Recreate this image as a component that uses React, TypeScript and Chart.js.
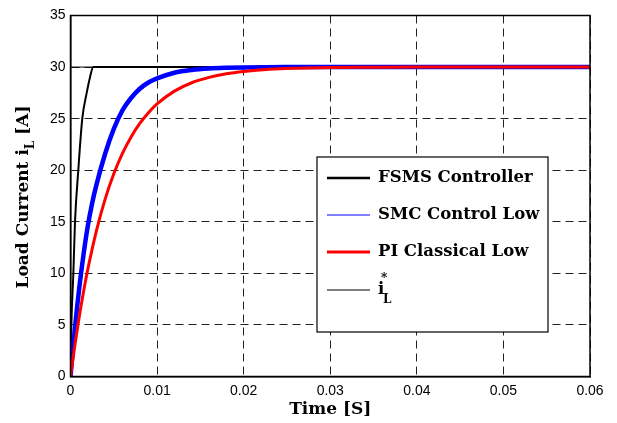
import React, { useEffect, useRef } from "react";
import { Chart, registerables } from "chart.js";

Chart.register(...registerables);

// ---- data ----
const xTickValues = [0, 0.01, 0.02, 0.03, 0.04, 0.05, 0.06];
const xTickLabels = ["0", "0.01", "0.02", "0.03", "0.04", "0.05", "0.06"];
const yTickValues = [0, 5, 10, 15, 20, 25, 30, 35];
const yTickLabels = ["0", "5", "10", "15", "20", "25", "30", "35"];

const timeFsms = [0, 0.0001, 0.00033, 0.00052, 0.0009, 0.00136, 0.00187, 0.00225, 0.00263, 0.06];
const fsms = [0, 5, 10, 15, 20, 25, 27.5, 29, 30, 30];

const timeSmc = [0, 0.0005, 0.001, 0.0015, 0.002, 0.0025, 0.003, 0.004, 0.005, 0.006, 0.007, 0.008, 0.009, 0.01, 0.012, 0.014, 0.016, 0.018, 0.02, 0.025, 0.03, 0.04, 0.05, 0.06];
const smc = [0, 4.6, 8.5, 11.8, 14.6, 16.8, 18.6, 21.6, 24.0, 25.8, 27.0, 27.9, 28.5, 28.9, 29.45, 29.72, 29.86, 29.93, 29.97, 30, 30, 30, 30, 30];

const timePi = [0, 0.0005, 0.001, 0.0015, 0.002, 0.003, 0.004, 0.005, 0.006, 0.007, 0.008, 0.009, 0.01, 0.012, 0.014, 0.016, 0.018, 0.02, 0.023, 0.026, 0.03, 0.035, 0.04, 0.06];
const piLow = [0, 3.0, 5.75, 8.2, 10.4, 14.15, 17.2, 19.65, 21.63, 23.23, 24.53, 25.58, 26.43, 27.67, 28.48, 29.0, 29.35, 29.57, 29.78, 29.88, 29.95, 29.98, 30, 30];

const timeRef = [0, 0.06];
const refCurrent = [30, 30];

const legendLabels = ["FSMS Controller", "SMC Control Low", "PI Classical Low"];

const pts = (xs: number[], ys: number[]) => xs.map((x, i) => ({ x, y: ys[i] }));

const TITLE_FONT = "bold 17px 'DejaVu Serif', serif";
const TITLE_SMALL = "bold 12px 'DejaVu Serif', serif";
const LEG_FONT = "bold 16.5px 'DejaVu Serif', serif";
const LEG_SMALL = "bold 12px 'DejaVu Serif', serif";

const overlay = {
  id: "overlay",
  afterDraw(chart: any) {
    const { ctx, chartArea: a } = chart;
    ctx.save();
    // box
    ctx.strokeStyle = "#000";
    ctx.lineWidth = 1.5;
    ctx.strokeRect(a.left, a.top, a.right - a.left, a.bottom - a.top);

    // x title
    ctx.fillStyle = "#000";
    ctx.font = TITLE_FONT;
    ctx.textAlign = "center";
    ctx.textBaseline = "middle";
    ctx.fillText("Time [S]", (a.left + a.right) / 2, 410);

    // y title rotated with subscript
    ctx.save();
    ctx.translate(24, 197);
    ctx.rotate(-Math.PI / 2);
    ctx.textAlign = "left";
    ctx.textBaseline = "middle";
    const p1 = "Load Current i";
    const p3 = " [A]";
    ctx.font = TITLE_FONT;
    const w1 = ctx.measureText(p1).width;
    const w3 = ctx.measureText(p3).width;
    ctx.font = TITLE_SMALL;
    const w2 = ctx.measureText("L").width;
    const total = w1 + w2 + w3;
    let x = -total / 2;
    ctx.font = TITLE_FONT;
    ctx.fillText(p1, x, 0);
    x += w1;
    ctx.font = TITLE_SMALL;
    ctx.fillText("L", x, 7);
    x += w2;
    ctx.font = TITLE_FONT;
    ctx.fillText(p3, x, 0);
    ctx.restore();

    // legend
    const lx = 317, ly = 157, lw = 231, lh = 175;
    ctx.fillStyle = "#fff";
    ctx.fillRect(lx, ly, lw, lh);
    ctx.strokeStyle = "#000";
    ctx.lineWidth = 1.2;
    ctx.strokeRect(lx, ly, lw, lh);

    const rows = [178, 215, 252, 290];
    const colors = ["#000", "#0000ff", "#ff0000", "#000"];
    const widths = [2.5, 1, 3, 1];
    rows.forEach((ry, i) => {
      ctx.beginPath();
      ctx.strokeStyle = colors[i];
      ctx.lineWidth = widths[i];
      ctx.moveTo(327, ry);
      ctx.lineTo(370, ry);
      ctx.stroke();
    });
    ctx.fillStyle = "#000";
    ctx.textAlign = "left";
    ctx.textBaseline = "middle";
    ctx.font = LEG_FONT;
    legendLabels.forEach((t, i) => ctx.fillText(t, 378, rows[i]));
    // i_L^*
    ctx.fillText("i", 378, 290);
    ctx.font = LEG_SMALL;
    ctx.fillText("*", 381, 279);
    ctx.fillText("L", 383, 300);
    ctx.restore();
  },
};

export default function App() {
  const ref = useRef<HTMLCanvasElement | null>(null);
  useEffect(() => {
    const chart = new Chart(ref.current as HTMLCanvasElement, {
      type: "line",
      data: {
        datasets: [
          { label: "ref", data: pts(timeRef, refCurrent), borderColor: "#000", borderWidth: 1, pointRadius: 0, order: 4 },
          { label: legendLabels[0], data: pts(timeFsms, fsms), borderColor: "#000", borderWidth: 2, pointRadius: 0, order: 3, cubicInterpolationMode: "monotone" },
          { label: legendLabels[1], data: pts(timeSmc, smc), borderColor: "#0000ff", borderWidth: 4.5, pointRadius: 0, order: 2, cubicInterpolationMode: "monotone" },
          { label: legendLabels[2], data: pts(timePi, piLow), borderColor: "#ff0000", borderWidth: 3, pointRadius: 0, order: 1, cubicInterpolationMode: "monotone" },
        ],
      },
      options: {
        animation: false,
        responsive: true,
        maintainAspectRatio: false,
        parsing: false as any,
        layout: { padding: { top: 15.5, right: 27, left: 0, bottom: 0 } },
        plugins: { legend: { display: false }, tooltip: { enabled: false } },
        scales: {
          x: {
            type: "linear",
            min: 0,
            max: 0.06,
            afterBuildTicks: (s: any) => { s.ticks = xTickValues.map((v) => ({ value: v })); },
            afterFit: (s: any) => { s.height = 46.5; },
            ticks: {
              callback: (_v: any, i: number) => xTickLabels[i],
              font: { family: "'Liberation Sans', Arial, sans-serif", size: 14 },
              color: "#000",
              padding: 6,
              maxRotation: 0,
            },
            grid: { color: "#222", lineWidth: 1, drawTicks: false },
            border: { display: true, color: "#000", width: 1.5, dash: [8, 5] },
          },
          y: {
            type: "linear",
            min: 0,
            max: 35,
            afterBuildTicks: (s: any) => { s.ticks = yTickValues.map((v) => ({ value: v })); },
            afterFit: (s: any) => { s.width = 70.5; },
            ticks: {
              callback: (_v: any, i: number) => yTickLabels[i],
              font: { family: "'Liberation Sans', Arial, sans-serif", size: 14 },
              color: "#000",
              padding: 5,
            },
            grid: { color: "#222", lineWidth: 1, drawTicks: false },
            border: { display: true, color: "#000", width: 1.5, dash: [8, 5] },
          },
        },
      },
      plugins: [overlay],
    });
    return () => chart.destroy();
  }, []);
  return (
    <div style={{ position: "absolute", left: 0, top: 0, width: 617, height: 423 }}>
      <canvas ref={ref} />
    </div>
  );
}
